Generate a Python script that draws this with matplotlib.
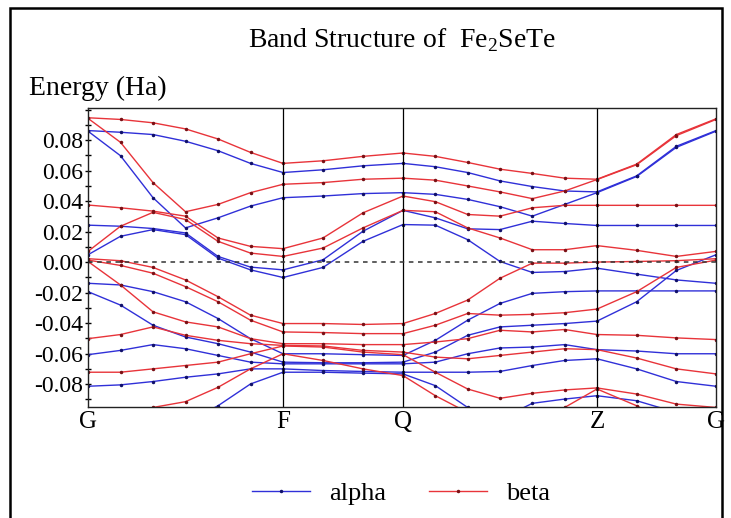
import numpy as np
import matplotlib.pyplot as plt
from matplotlib.lines import Line2D
from matplotlib.patches import Rectangle
from matplotlib.ticker import MultipleLocator

plt.rcParams['font.family'] = 'Liberation Serif'
plt.rcParams['mathtext.fontset'] = 'custom'
plt.rcParams['mathtext.rm'] = 'Liberation Serif'
plt.rcParams['axes.unicode_minus'] = False

# k-path: high symmetry points and number of steps per segment
k_labels = ['G', 'F', 'Q', 'Z', 'G']
k_nodes = [0.0, 1.95, 3.15, 5.09, 6.28]
seg_steps = [6, 3, 6, 3]

# alpha (spin up) bands, Ha, 19 k-points along G-F-Q-Z-G
alpha_1 = [0.0862, 0.0851, 0.0836, 0.0792, 0.0730, 0.0647, 0.0587, 0.0605, 0.0631, 0.0647,
           0.0625, 0.0587, 0.0532, 0.0495, 0.0466, 0.0460, 0.0565, 0.0759, 0.0862]
alpha_2 = [0.0858, 0.0697, 0.0422, 0.0224, 0.0290, 0.0367, 0.0422, 0.0433, 0.0449, 0.0455,
           0.0444, 0.0411, 0.0363, 0.0301, 0.0378, 0.0455, 0.0561, 0.0752, 0.0858]
alpha_3 = [0.0242, 0.0235, 0.0220, 0.0191, 0.0037, -0.0033, -0.0051, 0.0015, 0.0202, 0.0339,
           0.0290, 0.0218, 0.0213, 0.0268, 0.0253, 0.0240, 0.0240, 0.0240, 0.0240]
alpha_4 = [0.0048, 0.0169, 0.0213, 0.0180, 0.0026, -0.0051, -0.0101, -0.0035, 0.0136, 0.0246,
           0.0242, 0.0147, 0.0004, -0.0068, -0.0062, -0.0040, -0.0079, -0.0117, -0.0139]
alpha_5 = [-0.0139, -0.0150, -0.0194, -0.0260, -0.0370, -0.0502, -0.0601, -0.0601, -0.0607, -0.0612,
           -0.0513, -0.0381, -0.0271, -0.0205, -0.0194, -0.0189, -0.0189, -0.0189, -0.0189]
alpha_6 = [-0.0194, -0.0282, -0.0414, -0.0491, -0.0535, -0.0590, -0.0656, -0.0660, -0.0660, -0.0656,
           -0.0590, -0.0480, -0.0425, -0.0414, -0.0403, -0.0387, -0.0260, -0.0055, 0.0048]
alpha_7 = [-0.0607, -0.0579, -0.0541, -0.0568, -0.0612, -0.0656, -0.0667, -0.0667, -0.0667, -0.0667,
           -0.0656, -0.0601, -0.0563, -0.0557, -0.0541, -0.0574, -0.0583, -0.0601, -0.0601]
alpha_8 = [-0.0814, -0.0805, -0.0783, -0.0755, -0.0733, -0.0700, -0.0700, -0.0711, -0.0717, -0.0722,
           -0.0722, -0.0722, -0.0717, -0.0678, -0.0645, -0.0634, -0.0700, -0.0783, -0.0814]
alpha_9 = [-0.1272, -0.1162, -0.1118, -0.1052, -0.0942, -0.0799, -0.0722, -0.0722, -0.0728, -0.0733,
           -0.0810, -0.0953, -0.1030, -0.0926, -0.0898, -0.0876, -0.0909, -0.0986, -0.1074]

# beta (spin down) bands
beta_1 = [0.0946, 0.0935, 0.0913, 0.0873, 0.0807, 0.0719, 0.0647, 0.0664, 0.0693, 0.0715,
          0.0693, 0.0653, 0.0609, 0.0581, 0.0550, 0.0543, 0.0642, 0.0836, 0.0939]
beta_2 = [0.0942, 0.0785, 0.0521, 0.0330, 0.0378, 0.0455, 0.0510, 0.0521, 0.0543, 0.0550,
          0.0537, 0.0499, 0.0460, 0.0416, 0.0466, 0.0541, 0.0638, 0.0829, 0.0935]
beta_3 = [0.0374, 0.0356, 0.0334, 0.0301, 0.0158, 0.0103, 0.0088, 0.0158, 0.0323, 0.0433,
          0.0396, 0.0312, 0.0301, 0.0356, 0.0372, 0.0372, 0.0372, 0.0372, 0.0372]
beta_4 = [0.0070, 0.0235, 0.0326, 0.0279, 0.0136, 0.0059, 0.0037, 0.0092, 0.0224, 0.0339,
          0.0330, 0.0224, 0.0158, 0.0081, 0.0081, 0.0108, 0.0077, 0.0037, 0.0070]
beta_5 = [0.0022, 0.0009, -0.0035, -0.0117, -0.0227, -0.0348, -0.0403, -0.0403, -0.0409, -0.0403,
          -0.0337, -0.0249, -0.0106, -0.0007, -0.0007, 0.0000, 0.0004, 0.0009, 0.0022]
beta_6 = [0.0013, -0.0022, -0.0073, -0.0161, -0.0260, -0.0381, -0.0458, -0.0462, -0.0469, -0.0469,
          -0.0414, -0.0337, -0.0348, -0.0343, -0.0332, -0.0308, -0.0194, -0.0035, 0.0013]
beta_7 = [0.0004, -0.0150, -0.0326, -0.0392, -0.0425, -0.0502, -0.0535, -0.0535, -0.0541, -0.0541,
          -0.0524, -0.0502, -0.0447, -0.0458, -0.0442, -0.0475, -0.0480, -0.0497, -0.0508]
beta_8 = [-0.0502, -0.0475, -0.0425, -0.0480, -0.0513, -0.0535, -0.0546, -0.0550, -0.0579, -0.0590,
          -0.0623, -0.0634, -0.0612, -0.0590, -0.0568, -0.0574, -0.0629, -0.0700, -0.0733]
beta_9 = [-0.0722, -0.0722, -0.0700, -0.0678, -0.0656, -0.0601, -0.0550, -0.0557, -0.0590, -0.0607,
          -0.0722, -0.0832, -0.0893, -0.0860, -0.0838, -0.0825, -0.0865, -0.0931, -0.0953]
beta_10 = [-0.1008, -0.0986, -0.0953, -0.0915, -0.0821, -0.0700, -0.0601, -0.0645, -0.0700, -0.0744,
           -0.0876, -0.0986, -0.1074, -0.1052, -0.0953, -0.0832, -0.0942, -0.1074, -0.1162]

alpha_bands = [alpha_1, alpha_2, alpha_3, alpha_4, alpha_5, alpha_6, alpha_7, alpha_8, alpha_9]
beta_bands = [beta_1, beta_2, beta_3, beta_4, beta_5, beta_6, beta_7, beta_8, beta_9, beta_10]

# k distance of every point along the path
kdist = [k_nodes[0]]
for i, n in enumerate(seg_steps):
    kdist += list(np.linspace(k_nodes[i], k_nodes[i + 1], n + 1)[1:])

blue = '#3030d8'
red = '#e8343a'

fig = plt.figure(figsize=(7.31, 5.18), dpi=100)
ax = fig.add_axes([88 / 731, 1 - 407 / 518, (716 - 88) / 731, (407 - 108) / 518])

for band in alpha_bands:
    ax.plot(kdist, band, color=blue, lw=1.0, marker='.', ms=3, mfc='#10106a', mec='#10106a')
for band in beta_bands:
    ax.plot(kdist, band, color=red, lw=1.0, marker='.', ms=3, mfc='#7a1015', mec='#7a1015')

for x in k_nodes[1:-1]:
    ax.axvline(x, color='black', lw=0.9)
ax.axhline(0, color='#333333', lw=1.1, ls=(0, (3, 3)))

ax.set_xlim(k_nodes[0], k_nodes[-1])
ax.set_ylim(-0.095, 0.101)
ax.set_xticks(k_nodes)
ax.set_xticklabels(k_labels, fontsize=18)
ax.tick_params(axis='x', length=0, pad=3)
ax.set_yticks(np.arange(-0.08, 0.081, 0.02))
ax.set_yticklabels(['%.2f' % v for v in np.arange(-0.08, 0.081, 0.02)], fontsize=17)
ax.yaxis.set_minor_locator(MultipleLocator(0.01))
ax.tick_params(axis='y', which='both', direction='inout', length=5, width=1, pad=1)
for s in ax.spines.values():
    s.set_color('#222222')
    s.set_linewidth(1.0)

fig.text(402 / 731, 1 - 40 / 518, r'Band Structure of  Fe$_\mathrm{2}$SeTe', ha='center', va='center', fontsize=20)
fig.text(29 / 731, 1 - 88 / 518, 'Energy (Ha)', ha='left', va='center', fontsize=20)

# outer frame
fig.patches.append(Rectangle((10 / 731, -0.05), (722 - 10) / 731, (518 - 8) / 518 + 0.05,
                             transform=fig.transFigure, fill=False, lw=1.8, ec='black'))

handles = [Line2D([], [], color=blue, lw=1.0, marker='.', ms=3, mfc='#10106a', mec='#10106a'),
           Line2D([], [], color=red, lw=1.0, marker='.', ms=3, mfc='#7a1015', mec='#7a1015')]
fig.legend(handles, ['alpha', 'beta'], loc='center', bbox_to_anchor=(401 / 731, 1 - 493 / 518),
           ncol=2, frameon=False, fontsize=19, handlelength=2.2, handletextpad=0.75, columnspacing=1.6)

fig.savefig('out.png', dpi=100)
